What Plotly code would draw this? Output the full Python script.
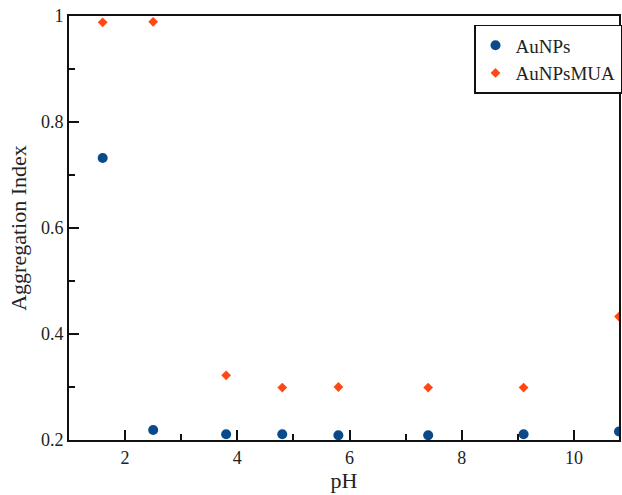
import plotly.graph_objects as go

ph_nps = [1.6, 2.5, 3.8, 4.8, 5.8, 7.4, 9.1, 10.8]
agg_nps = [0.732, 0.219, 0.211, 0.211, 0.209, 0.209, 0.211, 0.216]

ph_mua = [1.6, 2.5, 3.8, 4.8, 5.8, 7.4, 9.1, 10.8]
agg_mua = [0.988, 0.989, 0.322, 0.299, 0.300, 0.299, 0.299, 0.433]

font_family = "Liberation Serif"

fig = go.Figure()
fig.add_trace(go.Scatter(x=ph_nps, y=agg_nps, mode="markers", name="AuNPs",
                         marker=dict(symbol="circle", size=10, color="#0a4a8a")))
fig.add_trace(go.Scatter(x=ph_mua, y=agg_mua, mode="markers", name="AuNPsMUA",
                         marker=dict(symbol="diamond", size=7.5, color="#ff4814")))

axis_common = dict(
    showgrid=False, zeroline=False, showline=True, linecolor="#111", linewidth=2,
    mirror=True, ticks="inside", ticklen=10, tickwidth=1.5, tickcolor="#111",
    tickfont=dict(family=font_family, size=18, color="#222"),
)

fig.update_xaxes(range=[1, 10.8], dtick=2, tick0=0,
                 minor=dict(dtick=1, ticks="inside", ticklen=6, tickwidth=1.5, tickcolor="#111"),
                 title=dict(text="pH", font=dict(family=font_family, size=22, color="#222"), standoff=4),
                 **axis_common)
fig.update_yaxes(range=[0.2, 1.0], dtick=0.2, tick0=0,
                 minor=dict(dtick=0.1, ticks="inside", ticklen=6, tickwidth=1.5, tickcolor="#111"),
                 title=dict(text="Aggregation Index", font=dict(family=font_family, size=22, color="#222"), standoff=8),
                 **axis_common)

fig.update_layout(
    width=622, height=495,
    margin=dict(l=69, r=0, t=16, b=55),
    plot_bgcolor="white", paper_bgcolor="white",
    font=dict(family=font_family, size=19, color="#222"),
    legend=dict(x=0.737, y=0.979, xanchor="left", yanchor="top",
                bordercolor="#111", borderwidth=1.5, bgcolor="white",
                font=dict(family=font_family, size=19, color="#222"),
                itemwidth=30, tracegroupgap=0),
)

fig.write_html("out.html")
